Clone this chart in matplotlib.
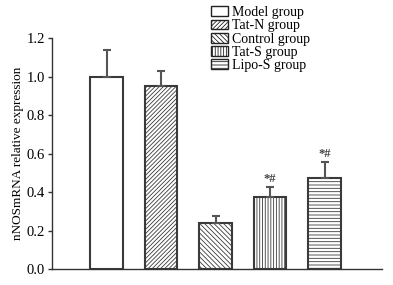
import matplotlib
matplotlib.use("Agg")
import matplotlib.pyplot as plt
from matplotlib.patches import Patch

groups = ["Model group", "Tat-N group", "Control group", "Tat-S group", "Lipo-S group"]
values = [1.00, 0.95, 0.24, 0.375, 0.473]
errors = [0.14, 0.08, 0.033, 0.053, 0.085]
marks = ["", "", "", "*#", "*#"]
hatches = ["", "////////", "\\\\\\\\\\\\\\", "||||||", "-----"]
yticks = [0.0, 0.2, 0.4, 0.6, 0.8, 1.0, 1.2]

plt.rcParams['font.family'] = ['Liberation Serif', 'DejaVu Serif']
plt.rcParams['hatch.linewidth'] = 0.6
plt.rcParams['hatch.color'] = '#555555'

fig = plt.figure(figsize=(3.93, 2.85), dpi=100)
ax = fig.add_axes([0.1323, 0.0561, 0.84, 0.8105])

edge = '#3a3a3a'
x = list(range(1, len(groups) + 1))
for xi, v, e, h, lab in zip(x, values, errors, hatches, groups):
    ax.bar(xi, v, width=0.6, color='white', edgecolor=edge, linewidth=1.5,
           hatch=h, label=lab, zorder=2)
    ax.errorbar(xi, v, yerr=[[0], [e]], fmt='none', ecolor='#555555',
                elinewidth=1.5, capsize=2.9, capthick=1.5, zorder=3)
for xi, v, e, m in zip(x, values, errors, marks):
    if m:
        ax.text(xi, v + e + 0.006, m, ha='center', va='bottom', fontsize=9,
                fontweight='bold', color='#444444')

ax.set_xlim(0, 6.055)
ax.set_ylim(0, 1.2)
ax.set_yticks(yticks)
ax.set_yticklabels([f"{t:.1f}" for t in yticks], fontsize=10.5)
ax.set_xticks([])
ax.spines['top'].set_visible(False)
ax.spines['right'].set_visible(False)
for s in ['left', 'bottom']:
    ax.spines[s].set_linewidth(1.0)
    ax.spines[s].set_color('#333333')
ax.tick_params(axis='y', direction='out', length=3, width=1.0, color='#333333', pad=2)
ax.set_ylabel("nNOSmRNA relative expression", fontsize=9.5, labelpad=2)

handles = [Patch(facecolor='white', edgecolor='#222222', hatch=h, linewidth=1.0)
           for h in hatches]
fig.legend(handles, groups, loc='upper left', bbox_to_anchor=(211/393, 1 - 6/285),
           frameon=False, fontsize=10, handlelength=1.2, handleheight=0.7,
           handletextpad=0.3, labelspacing=0.02, borderpad=0, borderaxespad=0)

fig.savefig("out.png", dpi=100)
